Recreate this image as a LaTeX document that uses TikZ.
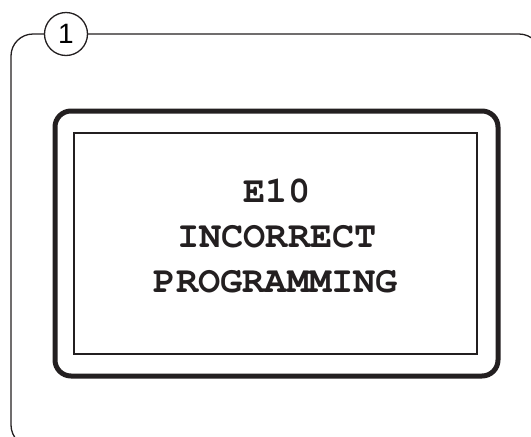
\documentclass[tikz,border=0pt]{standalone}
\usepackage{fontspec}
\setmainfont{Liberation Sans}
\newfontfamily\dispfont{TeX Gyre Cursor}
\definecolor{ink}{HTML}{231F20}

\begin{document}
\begin{tikzpicture}[x=1pt, y=-1pt,
  frame/.style={draw=ink, line width=1.3pt},
  bezel/.style={draw=ink, line width=5pt, rounded corners=16pt},
  screen/.style={draw=ink, line width=2pt},
  msg/.style={font=\dispfont\bfseries\fontsize{37}{45}\selectfont, text=ink, anchor=base, inner sep=0pt}]
\useasboundingbox (0,0) rectangle (531,437);
\clip (0,0) rectangle (531,437);

% outer panel, running off the page to the right and bottom
\draw [frame, rounded corners=22pt] (11,34) rectangle (541,447);
\node [frame, circle, fill=white, minimum size=43pt, inner sep=0pt,
       font=\fontsize{28}{30}\selectfont] (num) at (66,34) {1};

% display
\draw [bezel] (55,111) rectangle (498,376);
\draw [screen] (74,133) rectangle (477,354);
\node [msg] (code) at (277,202) {E10};
\node [msg] (line1) at (277,247) {INCORRECT};
\node [msg] (line2) at (276,292) {PROGRAMMING};
\end{tikzpicture}
\end{document}
